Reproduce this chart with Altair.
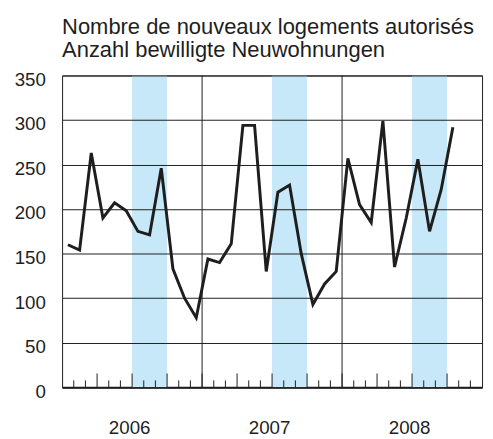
import altair as alt
import pandas as pd

# Monthly values (Jan 2006 - Oct 2008)
values_2006 = [160, 154, 263, 190, 207, 198, 175, 171, 246, 133, 100, 78]
values_2007 = [144, 140, 161, 294, 294, 130, 219, 227, 150, 93, 116, 130]
values_2008 = [257, 205, 185, 299, 135, 190, 256, 175, 222, 292]
years = [2006, 2007, 2008]
band_months = [6, 9]          # shaded 3rd quarter (Jul-Sep), month index within a year
y_ticks = [0, 50, 100, 150, 200, 250, 300, 350]
title_lines = ["Nombre de nouveaux logements autorisés", "Anzahl bewilligte Neuwohnungen"]

series = values_2006 + values_2007 + values_2008
n_months = 12 * len(years)
y_max = y_ticks[-1]

df = pd.DataFrame({"m": [i + 0.5 for i in range(len(series))], "v": series})
bands = pd.DataFrame({
    "x": [12 * k + band_months[0] for k in range(len(years))],
    "x2": [12 * k + band_months[1] for k in range(len(years))],
})
ticks = pd.DataFrame({"m": list(range(1, n_months))})
yearlines = pd.DataFrame({"m": [12 * k for k in range(1, len(years))]})

FONT = "Liberation Sans"
INK = "#1e1e1e"

xscale = alt.Scale(domain=[0, n_months], nice=False, zero=False)
yscale = alt.Scale(domain=[0, y_max], nice=False)

xaxis = alt.Axis(
    values=[12 * k + 6 for k in range(len(years))],
    labelExpr=f"toString({years[0]} + floor(datum.value / 12))",
    ticks=False,
    grid=False,
    domain=True,
    domainColor=INK,
    domainWidth=2,
    labelPadding=32,
    labelOffset=-3,
    title=None,
)
yaxis = alt.Axis(
    values=y_ticks,
    grid=True,
    gridColor=INK,
    gridWidth=1,
    gridOpacity=1,
    ticks=False,
    domain=False,
    labelPadding=17,
    labelOffset=4,
    title=None,
    zindex=1,
)

band_layer = alt.Chart(bands).transform_calculate(
    y0="0", y1=str(y_max)
).mark_rect(color="#c6e8f8").encode(
    x=alt.X("x:Q", scale=xscale, axis=xaxis),
    x2="x2:Q",
    y=alt.Y("y0:Q", scale=yscale, axis=yaxis),
    y2="y1:Q",
)

tick_layer = alt.Chart(ticks).transform_calculate(
    y0="0", len="datum.m % 3 == 0 ? 15.5 : 7.7"
).mark_rule(color=INK, strokeWidth=1).encode(
    x=alt.X("m:Q", scale=xscale, axis=xaxis),
    y=alt.Y("y0:Q", scale=yscale, axis=yaxis),
    y2="len:Q",
)

year_layer = alt.Chart(yearlines).transform_calculate(
    y0="0", y1=str(y_max)
).mark_rule(color=INK, strokeWidth=1).encode(
    x=alt.X("m:Q", scale=xscale, axis=xaxis),
    y=alt.Y("y0:Q", scale=yscale, axis=yaxis),
    y2="y1:Q",
)

line_layer = alt.Chart(df).mark_line(color=INK, strokeWidth=3, strokeJoin="miter").encode(
    x=alt.X("m:Q", scale=xscale, axis=xaxis),
    y=alt.Y("v:Q", scale=yscale, axis=yaxis),
)

chart = alt.layer(band_layer, tick_layer, year_layer, line_layer).properties(
    width=427,
    height=317,
    autosize=alt.AutoSizeParams(type="none"),
    padding={"left": 55, "top": 65, "right": 3, "bottom": 50},
    title=alt.TitleParams(
        text=title_lines,
        anchor="start",
        frame="group",
        font=FONT,
        fontSize=22.3,
        fontWeight="normal",
        color=INK,
        lineHeight=24,
        offset=9,
    ),
).configure_view(
    stroke=INK, strokeWidth=1
).configure_axis(
    labelFont=FONT, labelFontSize=19, labelColor=INK
)

chart.save("out.html", embed_options={"renderer": "svg", "actions": False})
